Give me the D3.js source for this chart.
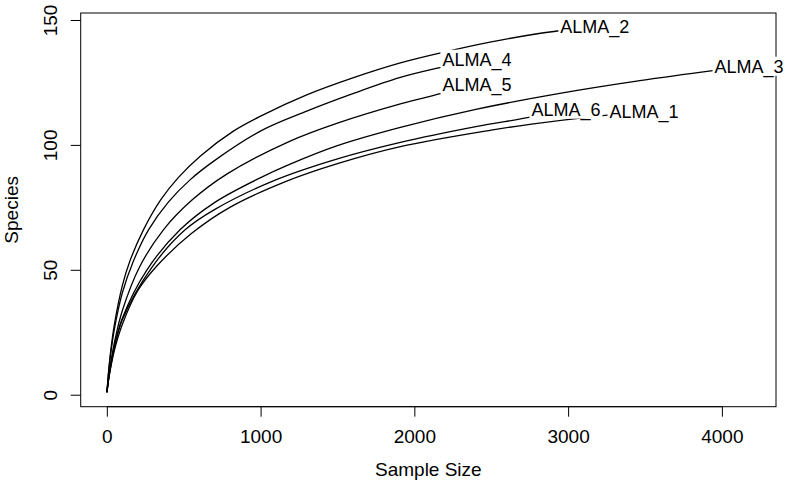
<!DOCTYPE html>
<html><head><meta charset="utf-8">
<script src="https://cdn.jsdelivr.net/npm/d3@7"></script>
<style>
body{margin:0;background:#fff}
text{font-family:"Liberation Sans",Arial,Helvetica,sans-serif;fill:#000}
</style>
</head><body>
<svg id="c" width="786" height="489"></svg>
<script>
// ---- data ----
const sampleNames = ["ALMA_1","ALMA_2","ALMA_3","ALMA_4","ALMA_5","ALMA_6"];

const sizesALMA1 = [1, 10, 25, 50, 100, 200, 325, 550, 800, 1170, 1500, 1909, 2500, 2762, 3197, 3494];
const speciesALMA1 = [1, 5.3, 10.8, 18, 28, 41.5, 51.5, 64.5, 75, 85.5, 92.5, 99.3, 105.9, 108.3, 111.5, 113.2];

const sizesALMA2 = [1, 10, 25, 50, 100, 150, 238, 350, 466, 607, 823, 1000, 1300, 1600, 1909, 2185, 2500, 2800, 3174];
const speciesALMA2 = [1, 8.4, 17.5, 28.5, 43.5, 53.5, 66, 78, 87, 95.5, 105.5, 111.5, 120, 126.8, 132.8, 137, 141.2, 144.5, 147.5];

const sizesALMA3 = [1, 10, 25, 50, 100, 260, 476, 700, 997, 1192, 1500, 1909, 2400, 2946, 3467, 3954, 4177];
const speciesALMA3 = [1, 5.8, 11.5, 19.5, 30.5, 49.9, 66, 76.9, 86.8, 92.3, 99.7, 107, 114.2, 120.6, 125.7, 129.8, 131.5];

const sizesALMA4 = [1, 10, 25, 50, 100, 173, 271, 400, 541, 700, 1008, 1300, 1600, 1909, 2185, 2407];
const speciesALMA4 = [1, 8, 16.3, 26.6, 40.6, 53.5, 66, 77.1, 86, 93.7, 105.8, 113.5, 120.5, 127, 131.2, 134.3];

const sizesALMA5 = [1, 10, 25, 50, 100, 216, 368, 550, 780, 1192, 1500, 1909, 2176, 2407];
const speciesALMA5 = [1, 6.1, 12.6, 21.1, 33.5, 51.5, 66, 77.7, 88.3, 101.5, 108.7, 116.4, 120.6, 124.2];

const sizesALMA6 = [1, 10, 25, 50, 100, 293, 509, 700, 1083, 1500, 1909, 2400, 2762, 2986];
const speciesALMA6 = [1, 5.6, 11.4, 19, 29.9, 51, 66, 74.1, 85.6, 94.4, 101, 107.3, 111.2, 114.3];

const xTicks = [0, 1000, 2000, 3000, 4000];
const yTicks = [0, 50, 100, 150];
const xLabel = "Sample Size";
const yLabel = "Species";

// ---- build ----
const sizeLists = [sizesALMA1, sizesALMA2, sizesALMA3, sizesALMA4, sizesALMA5, sizesALMA6];
const speciesLists = [speciesALMA1, speciesALMA2, speciesALMA3, speciesALMA4, speciesALMA5, speciesALMA6];
const series = sampleNames.map((name, i) => ({
  name,
  pts: sizeLists[i].map((n, j) => [n, speciesLists[i][j]])
}));

const box = {l: 80.7, r: 776, t: 13, b: 406.7};
const svg = d3.select("#c");

const x = d3.scaleLinear().domain([-170, 4352]).range([box.l, box.r]);
const y = d3.scaleLinear().domain([-4.8, 152.8]).range([box.b, box.t]);

svg.append("defs").append("clipPath").attr("id", "plotclip")
  .append("rect").attr("x", box.l).attr("y", box.t)
  .attr("width", box.r - box.l).attr("height", box.b - box.t);

// curves
const line = d3.line().x(d => x(d[0])).y(d => y(d[1])).curve(d3.curveCatmullRom.alpha(0.5));
svg.append("g").attr("clip-path", "url(#plotclip)")
  .selectAll("path").data(series).join("path")
  .attr("d", d => line(d.pts))
  .attr("fill", "none").attr("stroke", "#000").attr("stroke-width", 1.3);

// axes
const fs = 19;
const xAxis = d3.axisBottom(x).tickValues(xTicks).tickSize(10).tickFormat(d3.format("d"));
const gx = svg.append("g").attr("transform", `translate(0,${box.b})`).call(xAxis);
gx.select(".domain").remove();
gx.selectAll(".tick line").attr("stroke", "#000").attr("stroke-width", 1);
gx.selectAll(".tick text").attr("y", 36.3).attr("dy", null)
  .attr("font-size", fs).attr("font-family", null).attr("fill", "#000");
gx.append("line").attr("x1", x(xTicks[0])).attr("x2", x(xTicks[xTicks.length - 1]))
  .attr("y1", 0).attr("y2", 0).attr("stroke", "#000");

const yAxis = d3.axisLeft(y).tickValues(yTicks).tickSize(10).tickFormat(d3.format("d"));
const gy = svg.append("g").attr("transform", `translate(${box.l},0)`).call(yAxis);
gy.select(".domain").remove();
gy.selectAll(".tick line").attr("stroke", "#000").attr("stroke-width", 1);
gy.selectAll(".tick text").attr("transform", "rotate(-90)")
  .attr("x", 0).attr("y", -23.7).attr("dy", null).attr("text-anchor", "middle")
  .attr("font-size", fs).attr("font-family", null).attr("fill", "#000");

// box
svg.append("rect").attr("x", box.l).attr("y", box.t)
  .attr("width", box.r - box.l).attr("height", box.b - box.t)
  .attr("fill", "none").attr("stroke", "#000").attr("stroke-width", 1);

// axis titles
svg.append("text").attr("x", (box.l + box.r) / 2).attr("y", 476)
  .attr("text-anchor", "middle").attr("font-size", fs).text(xLabel);
svg.append("text").attr("transform", `translate(17.5,${(box.t + box.b) / 2}) rotate(-90)`)
  .attr("text-anchor", "middle").attr("font-size", fs).text(yLabel);

// end labels with white background (centred on the curve end)
const lfs = 18;
series.forEach(s => {
  const end = s.pts[s.pts.length - 1];
  const cx = x(end[0]), cy = y(end[1]);
  const g = svg.append("g");
  const r = g.append("rect").attr("fill", "#fff");
  const t = g.append("text").attr("x", cx).attr("y", cy + lfs * 0.716 / 2)
    .attr("text-anchor", "middle").attr("font-size", lfs).text(s.name);
  const w = t.node().getComputedTextLength();
  r.attr("x", cx - w / 2 - 2).attr("width", w + 4)
   .attr("y", cy - 9.5).attr("height", 19);
});
</script>
</body></html>
